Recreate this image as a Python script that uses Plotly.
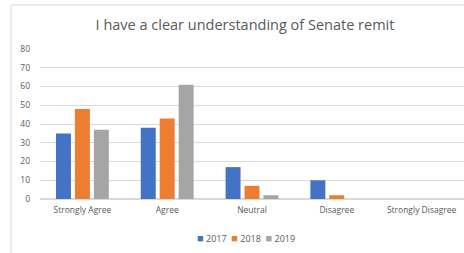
import plotly.graph_objects as go

categories = ["Strongly Agree", "Agree", "Neutral", "Disagree", "Strongly Disagree"]
years = ["2017", "2018", "2019"]
values_2017 = [35, 38, 17, 10, 0]
values_2018 = [48, 43, 7, 2, 0]
values_2019 = [37, 61, 2, 0, 0]
colors = ["#4472C4", "#ED7D31", "#A5A5A5"]

W, H = 464, 253
L, R, T, B = 40, 0, 49, 54
pw, ph = W - L - R, H - T - B

fig = go.Figure()
for name, vals, c in zip(years, [values_2017, values_2018, values_2019], colors):
    fig.add_trace(go.Bar(x=categories, y=vals, name=name, marker_color=c,
                         marker_line_width=0, showlegend=False))

font = "Open Sans, Noto Sans, sans-serif"
fig.update_layout(
    width=W, height=H,
    margin=dict(l=L, r=R, t=T, b=B, autoexpand=False),
    paper_bgcolor="white", plot_bgcolor="white",
    barmode="group", bargap=0.33, bargroupgap=0.21,
    font=dict(family=font, color="#595959", size=9),
    title=dict(text="I have a clear understanding of Senate remit",
               x=245 / W, xanchor="center", y=1 - 25 / H, yanchor="middle",
               font=dict(size=14.5, color="#595959", family=font)),
    yaxis=dict(range=[0, 80], dtick=10, showgrid=True, gridcolor="#D9D9D9",
               gridwidth=1, zeroline=True, zerolinecolor="#D9D9D9",
               showline=False, ticks="", ticklabelstandoff=9,
               tickfont=dict(size=8.5, color="#595959")),
    xaxis=dict(showline=False, ticks="", tickfont=dict(size=8.5, color="#595959"),
               ticklabelstandoff=4),
    showlegend=False,
)

# legend drawn as text with colored squares
legend_text = "  ".join(
    f"<span style='color:{c};font-size:11px'>■</span> {y}" for y, c in zip(years, colors)
)
fig.add_annotation(text=legend_text, xref="paper", yref="paper",
                   x=(246 - L) / pw, y=-(237 - 199) / ph,
                   xanchor="center", yanchor="middle", showarrow=False,
                   font=dict(size=9, color="#595959", family=font))

# chart area border (left and top edges visible)
x_border = (11 - L) / pw
y_top = (199 - 5) / ph
fig.add_shape(type="line", xref="paper", yref="paper",
              x0=x_border, x1=x_border, y0=y_top, y1=-(260 - 199) / ph,
              line=dict(color="#D9D9D9", width=1))
fig.add_shape(type="line", xref="paper", yref="paper",
              x0=x_border, x1=(470 - L) / pw, y0=y_top, y1=y_top,
              line=dict(color="#D9D9D9", width=1))

fig.write_html("out.html", config={"displayModeBar": False},
               post_script="document.body.style.margin='0';document.body.style.overflow='hidden';")
